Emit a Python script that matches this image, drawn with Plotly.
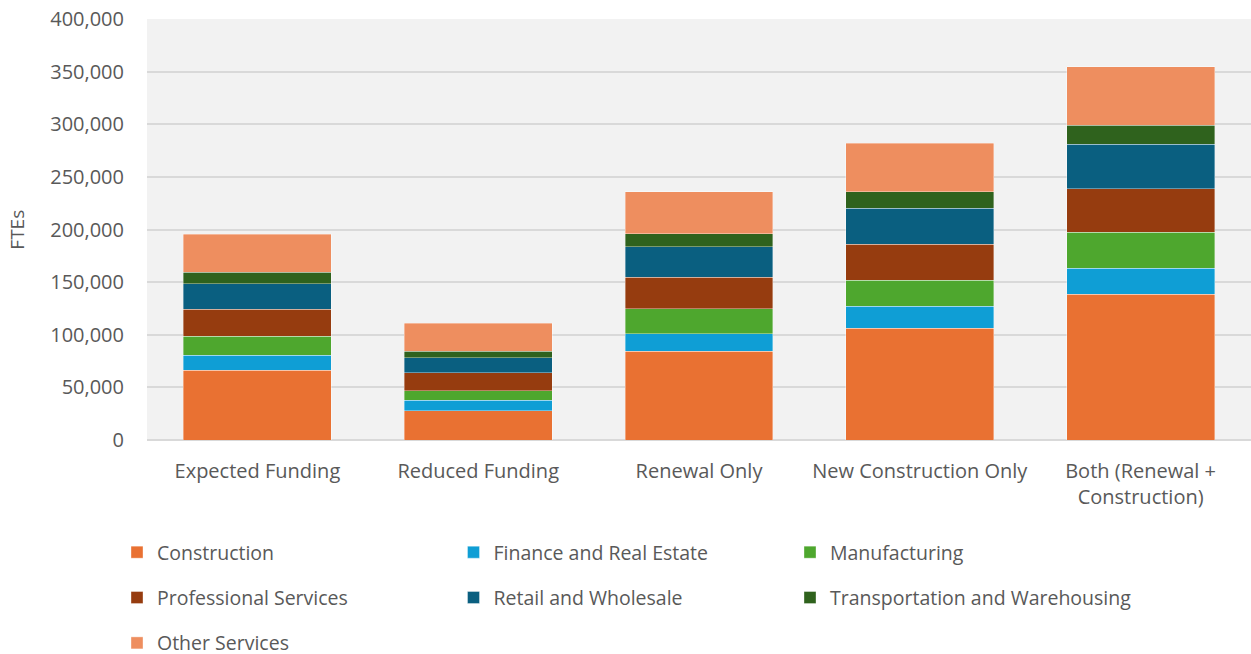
import plotly.graph_objects as go

scenarios = ["Expected Funding", "Reduced Funding", "Renewal Only",
             "New Construction Only", "Both (Renewal +<br>Construction)"]

construction = [66200, 27600, 84300, 106100, 138700]
finance_real_estate = [14300, 10400, 16700, 20900, 24400]
manufacturing = [18300, 8600, 23500, 25000, 34200]
professional_services = [25400, 17100, 30100, 34200, 41200]
retail_wholesale = [24300, 14500, 29100, 34200, 42500]
transportation_warehousing = [10800, 6100, 12300, 15500, 18000]
other_services = [36400, 26600, 39900, 46000, 55700]

# (name, values, colour, legend column)
series = [
    ("Construction", construction, "#E97132", "legend"),
    ("Finance and Real Estate", finance_real_estate, "#0F9ED5", "legend2"),
    ("Manufacturing", manufacturing, "#4EA72E", "legend3"),
    ("Professional Services", professional_services, "#963C0F", "legend"),
    ("Retail and Wholesale", retail_wholesale, "#0A5F80", "legend2"),
    ("Transportation and Warehousing", transportation_warehousing, "#2F621D", "legend3"),
    ("Other Services", other_services, "#EE8E5F", "legend"),
]

FONT = "'Open Sans', Lato, sans-serif"
TEXT = "#595959"

fig = go.Figure()
for name, vals, color, leg in series:
    fig.add_trace(go.Bar(
        x=scenarios, y=vals, name=name, legend=leg, legendgroup=name,
        marker=dict(color=color, line=dict(color="rgba(255,255,255,0.45)", width=0.8)),
    ))

legend_common = dict(
    orientation="v", xref="container", yref="container",
    y=1 - 533 / 654, xanchor="left", yanchor="top",
    tracegroupgap=17,
    font=dict(family=FONT, size=19.5, color=TEXT),
    bgcolor="rgba(0,0,0,0)", itemclick=False, traceorder="grouped",
)

col_left = [117.0, 453.5, 790.0]

fig.update_layout(
    width=1251, height=654,
    barmode="stack", bargap=0.33,
    paper_bgcolor="white", plot_bgcolor="#F2F2F2",
    margin=dict(l=146.5, r=0, t=19, b=214, autoexpand=False),
    font=dict(family=FONT, color=TEXT),
    legend=dict(**legend_common, x=col_left[0] / 1251),
    legend2=dict(**legend_common, x=col_left[1] / 1251),
    legend3=dict(**legend_common, x=col_left[2] / 1251),
    yaxis=dict(
        range=[0, 400000], dtick=50000, tickformat=",d",
        showgrid=True, gridcolor="#D9D9D9", gridwidth=1.5,
        zeroline=True, zerolinecolor="#D9D9D9", zerolinewidth=2,
        tickfont=dict(family=FONT, size=20, color=TEXT),
        ticks="", ticklen=0, ticklabelstandoff=22,
    ),
    xaxis=dict(
        tickfont=dict(family=FONT, size=20, color=TEXT),
        showgrid=False, ticks="", ticklabelstandoff=17, tickangle=0,
    ),
    annotations=[dict(
        text="FTEs", textangle=-90, showarrow=False,
        xref="paper", x=-0.1185, xanchor="center",
        yref="paper", y=0.5, yanchor="middle",
        font=dict(family=FONT, size=19, color=TEXT),
    )],
)

fig.write_html("out.html")
